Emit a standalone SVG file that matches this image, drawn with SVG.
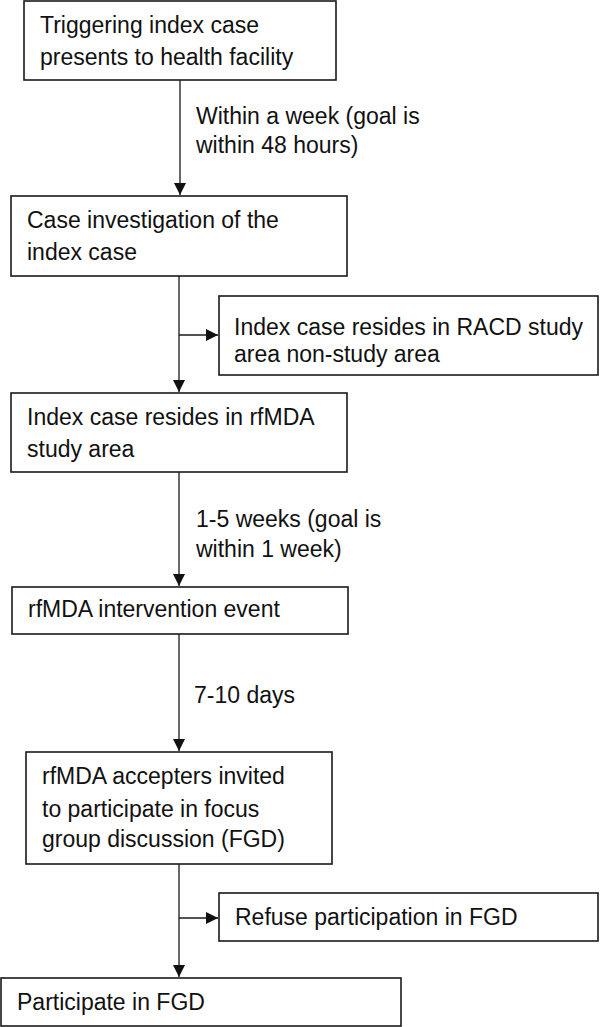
<svg xmlns="http://www.w3.org/2000/svg" width="601" height="1027" viewBox="0 0 601 1027">
<style>
.box{fill:#fff;stroke:#1a1a1a;stroke-width:1.6}
.t{font-family:"Liberation Sans",Arial,sans-serif;font-size:23px;fill:#111}
.ln{stroke:#1a1a1a;stroke-width:1.3;fill:none}
</style>
<defs>
<marker id="ah" viewBox="0 0 12 12" refX="12" refY="6" markerWidth="12" markerHeight="12" markerUnits="userSpaceOnUse" orient="auto">
<path d="M0,0 L12,6 L0,12 Z" fill="#111"/>
</marker>
</defs>
<rect width="601" height="1027" fill="#fff"/>
<g id="connectors">
<line class="ln" x1="180" y1="80" x2="180" y2="195" marker-end="url(#ah)"/>
<line class="ln" x1="179" y1="276" x2="179" y2="392" marker-end="url(#ah)"/>
<line class="ln" x1="179" y1="335" x2="218" y2="335" marker-end="url(#ah)"/>
<line class="ln" x1="179" y1="472" x2="179" y2="586" marker-end="url(#ah)"/>
<line class="ln" x1="179" y1="634" x2="179" y2="751" marker-end="url(#ah)"/>
<line class="ln" x1="179" y1="864" x2="179" y2="977" marker-end="url(#ah)"/>
<line class="ln" x1="179" y1="918" x2="218" y2="918" marker-end="url(#ah)"/>
<text class="t" x="196" y="124">Within a week (goal is</text>
<text class="t" x="196" y="153">within 48 hours)</text>
<text class="t" x="196" y="527">1-5 weeks (goal is</text>
<text class="t" x="196" y="557">within 1 week)</text>
<text class="t" x="194" y="703">7-10 days</text>
</g>
<g id="n1">
<rect class="box" x="24" y="1" width="312" height="79"/>
<text class="t" x="40" y="33">Triggering index case</text>
<text class="t" x="40" y="65">presents to health facility</text>
</g>
<g id="n2">
<rect class="box" x="11" y="196" width="336" height="80"/>
<text class="t" x="27" y="228">Case investigation of the</text>
<text class="t" x="27" y="260">index case</text>
</g>
<g id="n3">
<rect class="box" x="219" y="296" width="379" height="79"/>
<text class="t" x="234" y="335">Index case resides in RACD study</text>
<text class="t" x="234" y="362">area non-study area</text>
</g>
<g id="n4">
<rect class="box" x="11" y="393" width="336" height="79"/>
<text class="t" x="27" y="425">Index case resides in rfMDA</text>
<text class="t" x="27" y="457">study area</text>
</g>
<g id="n5">
<rect class="box" x="12" y="587" width="336" height="47"/>
<text class="t" x="28" y="617">rfMDA intervention event</text>
</g>
<g id="n6">
<rect class="box" x="26" y="752" width="306" height="112"/>
<text class="t" x="42" y="784">rfMDA accepters invited</text>
<text class="t" x="42" y="817">to participate in focus</text>
<text class="t" x="42" y="847">group discussion (FGD)</text>
</g>
<g id="n7">
<rect class="box" x="219" y="893" width="379" height="48"/>
<text class="t" x="235" y="925">Refuse participation in FGD</text>
</g>
<g id="n8">
<rect class="box" x="1" y="978" width="400" height="48"/>
<text class="t" x="17" y="1010">Participate in FGD</text>
</g>
</svg>
